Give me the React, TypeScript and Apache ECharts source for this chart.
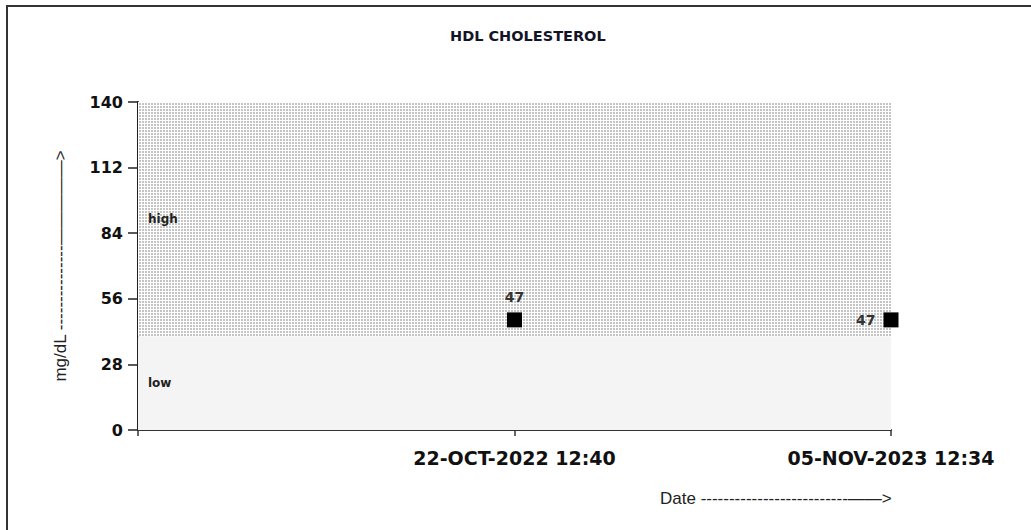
import React, { useEffect, useRef } from "react";
import * as echarts from "echarts";

const categories = ["", "22-OCT-2022 12:40", "05-NOV-2023 12:34"];
const pointX = [1, 2];
const values = [47, 47];
const labelPositions = ["top", "left"];
const bandNames = ["low", "high"];
const bandFrom = [0, 40];
const bandTo = [40, 140];
const yMin = 0;
const yMax = 140;
const yInterval = 28;
const titleText = "HDL CHOLESTEROL";
const yName = "mg/dL " + "-".repeat(15) + "\u2014\u2014\u2014\u2014\u2014>";
const xName = "Date " + "-".repeat(26) + "\u2014\u2014>";

function makePattern(): HTMLCanvasElement {
  const c = document.createElement("canvas");
  c.width = 3;
  c.height = 3;
  const ctx = c.getContext("2d")!;
  ctx.fillStyle = "#ffffff";
  ctx.fillRect(0, 0, 3, 3);
  ctx.fillStyle = "#c4c4c4";
  ctx.fillRect(1, 1, 2, 2);
  return c;
}

export default function App() {
  const ref = useRef<HTMLDivElement>(null);
  useEffect(() => {
    if (!ref.current) return;
    const chart = echarts.init(ref.current, undefined, { renderer: "svg" });
    const pattern = { image: makePattern(), repeat: "repeat", imageWidth: 3, imageHeight: 3 } as any;
    const bandFills = ["#f4f4f4", pattern];
    const option: any = {
      animation: false,
      backgroundColor: "#ffffff",
      title: {
        text: titleText,
        left: 445,
        top: 23,
        textStyle: { fontFamily: "DejaVu Sans", fontWeight: "bold", fontSize: 14.5, color: "#141428" },
      },
      grid: { left: 138, right: 140, top: 102, bottom: 100 },
      xAxis: {
        type: "value",
        min: 0,
        max: categories.length - 1,
        interval: 1,
        splitLine: { show: false },
        axisLine: { show: true, lineStyle: { color: "#333", width: 2 } },
        axisTick: { show: true, length: 6, lineStyle: { color: "#333", width: 1.5 } },
        axisLabel: {
          margin: 18,
          showMaxLabel: true,
          showMinLabel: true,
          formatter: (v: number) => categories[Math.round(v)] ?? "",
          fontFamily: "DejaVu Sans",
          fontWeight: "bold",
          fontSize: 19,
          color: "#111",
        },
      },
      yAxis: {
        type: "value",
        min: yMin,
        max: yMax,
        interval: yInterval,
        splitLine: { show: false },
        axisLine: { show: true, lineStyle: { color: "#222", width: 2 } },
        axisTick: { show: true, length: 10, lineStyle: { color: "#222", width: 1.5 } },
        axisLabel: {
          margin: 15,
          fontFamily: "DejaVu Sans",
          fontWeight: "bold",
          fontSize: 16,
          color: "#111",
        },
      },
      graphic: [
        {
          type: "rect",
          shape: { x: 7, y: 6, width: 1200, height: 800 },
          style: { fill: "none", stroke: "#333", lineWidth: 2 },
          z: 100,
        },
        {
          type: "text",
          x: 60,
          y: 266,
          rotation: Math.PI / 2,
          style: {
            text: yName,
            fontFamily: "Liberation Sans",
            fontSize: 17,
            fill: "#222",
            align: "center",
            verticalAlign: "middle",
          },
        },
        {
          type: "text",
          x: 660,
          y: 498,
          style: {
            text: xName,
            fontFamily: "Liberation Sans",
            fontSize: 17,
            fill: "#222",
            align: "left",
            verticalAlign: "middle",
          },
        },
      ],
      series: [
        {
          type: "scatter",
          symbol: "rect",
          symbolSize: 15,
          itemStyle: { color: "#000", opacity: 1 },
          clip: false,
          z: 5,
          data: values.map((v, i) => ({
            value: [pointX[i], v],
            label: {
              show: true,
              position: labelPositions[i],
              distance: 8,
              formatter: String(v),
              fontFamily: "DejaVu Sans",
              fontWeight: "bold",
              fontSize: 14,
              color: "#333",
              opacity: 1,
            },
          })),
          markArea: {
            silent: true,
            z: 1,
            data: bandNames.map((n, i) => [
              {
                name: n,
                xAxis: 0,
                yAxis: bandFrom[i],
                itemStyle: { color: bandFills[i], borderWidth: 0, opacity: 1 },
                label: {
                  show: true,
                  position: "insideLeft",
                  distance: 10,
                  fontFamily: "DejaVu Sans",
                  fontWeight: "bold",
                  fontSize: 12,
                  color: "#222",
                },
              },
              { xAxis: categories.length - 1, yAxis: bandTo[i] },
            ]),
          },
        },
      ],
    };
    chart.setOption(option);
    return () => chart.dispose();
  }, []);
  return (
    <div
      ref={ref}
      style={{ position: "absolute", left: 0, top: 0, width: 1031, height: 530 }}
    />
  );
}
